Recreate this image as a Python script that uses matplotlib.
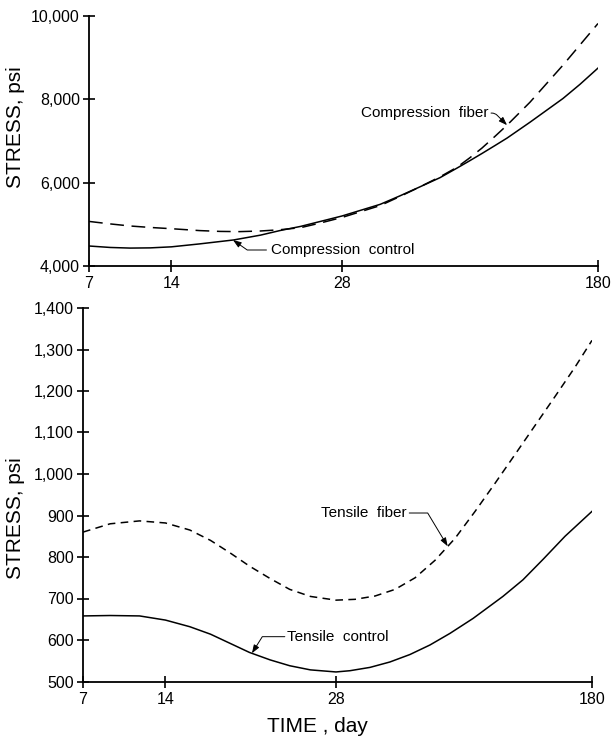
import numpy as np
import matplotlib
matplotlib.use("Agg")
import matplotlib.pyplot as plt
from matplotlib.ticker import FixedLocator, FuncFormatter

plt.rcParams['font.family'] = ['Liberation Sans', 'DejaVu Sans']

# ---- data (days, psi) ----
x_ticks = [7, 14, 28, 180]
x_tick_labels = ["7", "14", "28", "180"]

comp_control_days = [7, 8.8, 10.5, 12.2, 14, 16.3, 19.1, 21.3, 22.9, 24.6, 28, 50.7, 62.5, 74.3, 86.2, 96.3, 104.0, 111.1, 118.8, 126.0, 139.6, 159.2, 169.3, 180]
comp_control_psi = [4480, 4445, 4430, 4435, 4460, 4530, 4625, 4740, 4850, 4950, 5200, 5480, 5685, 5900, 6120, 6350, 6530, 6700, 6890, 7070, 7450, 8020, 8360, 8750]

comp_fiber_days = [7, 8.8, 10.5, 12.2, 14, 16.3, 18.0, 19.6, 21.3, 22.9, 24.6, 26.2, 28, 50.7, 62.5, 74.3, 86.2, 96.3, 104.0, 111.1, 118.8, 126.0, 139.6, 159.2, 180]
comp_fiber_psi = [5070, 5010, 4960, 4925, 4895, 4850, 4830, 4825, 4840, 4870, 4920, 5030, 5165, 5450, 5670, 5900, 6140, 6370, 6600, 6830, 7110, 7380, 7930, 8820, 9820]

tens_fiber_days = [7, 9.3, 11.8, 14, 16.0, 17.7, 19.3, 20.9, 22.6, 24.2, 25.9, 28, 39.3, 51.2, 63.1, 75.0, 86.8, 98.7, 110.6, 122.5, 134.3, 146.2, 158.1, 170, 180]
tens_fiber_psi = [860, 880, 887, 882, 865, 840, 810, 778, 748, 722, 705, 696, 698, 706, 722, 750, 792, 845, 910, 978, 1047, 1117, 1187, 1258, 1322]

tens_control_days = [7, 9.3, 11.8, 14, 16.0, 17.7, 19.3, 20.9, 22.6, 24.2, 25.9, 28, 36.3, 48.2, 60.0, 71.9, 83.8, 95.7, 109.4, 127.1, 139.0, 151.1, 164.0, 180]
tens_control_psi = [658, 659, 658, 648, 632, 614, 592, 570, 552, 538, 528, 523, 526, 534, 547, 565, 588, 616, 652, 705, 745, 795, 850, 910]

top_yticks = [4000, 6000, 8000, 10000]
bot_yticks = [500, 600, 700, 800, 900, 1000, 1100, 1200, 1300, 1400]

# ---- piecewise-linear time axis as in the original drawing ----
_brk_days = np.array([7, 14, 28, 180], dtype=float)
_brk_pos = np.array([0.0, 0.162, 0.497, 1.0])

def fwd(x):
    return np.interp(np.asarray(x, dtype=float), _brk_days, _brk_pos)

def inv(p):
    return np.interp(np.asarray(p, dtype=float), _brk_pos, _brk_days)

fig = plt.figure(figsize=(6.13, 7.43), dpi=100)
ax1 = fig.add_axes([89/613, 1-266/743, (598-89)/613, 250/743])
ax2 = fig.add_axes([83/613, 1-681.5/743, (592-83)/613, 373.5/743])

def fmt_thousands(v, pos):
    return f"{int(v):,}"

for ax in (ax1, ax2):
    ax.set_xscale('function', functions=(fwd, inv))
    ax.set_xlim(7, 180)
    ax.xaxis.set_major_locator(FixedLocator(x_ticks))
    ax.set_xticklabels(x_tick_labels)
    ax.xaxis.set_minor_locator(FixedLocator([]))
    for s in ('top', 'right'):
        ax.spines[s].set_visible(False)
    for s in ('left', 'bottom'):
        ax.spines[s].set_linewidth(1.3)
    ax.tick_params(axis='both', direction='inout', length=9, width=1.2,
                   labelsize=11.5, colors='black')
    ax.tick_params(axis='x', pad=3)
    ax.tick_params(axis='y', pad=2)

# top panel
ax1.plot(comp_control_days, comp_control_psi, color='black', lw=1.1)
ax1.plot(comp_fiber_days, comp_fiber_psi, color='black', lw=1.1, dashes=(9, 5))
ax1.set_ylim(4000, 10000)
ax1.yaxis.set_major_locator(FixedLocator(top_yticks))
ax1.yaxis.set_major_formatter(FuncFormatter(fmt_thousands))
ax1.set_ylabel("STRESS, psi", fontsize=15)
ax1.yaxis.set_label_coords(-0.125, 0.556)

# bottom panel
ax2.plot(tens_control_days, tens_control_psi, color='black', lw=1.1)
ax2.plot(tens_fiber_days, tens_fiber_psi, color='black', lw=1.1, dashes=(5, 3.5))
ax2.set_ylim(500, 1400)
ax2.yaxis.set_major_locator(FixedLocator(bot_yticks))
ax2.yaxis.set_major_formatter(FuncFormatter(fmt_thousands))
ax2.set_ylabel("STRESS, psi", fontsize=15)
ax2.yaxis.set_label_coords(-0.113, 0.438)
ax2.set_xlabel("TIME , day", fontsize=15)
ax2.xaxis.set_label_coords(0.46, -0.095)

arrow = dict(arrowstyle='-|>,head_length=0.5,head_width=0.18', color='black', lw=0.7,
             shrinkA=0, shrinkB=0)

# annotations
ax1.text(115, 7670, "Compression  fiber", ha='right', va='center', fontsize=11)
ax1.annotate('', xy=(126.0, 7380), xytext=(116.5, 7670),
             arrowprops=dict(arrow, connectionstyle='angle,angleA=0,angleB=-45,rad=3'))

ax1.text(22.2, 4384, "Compression  control", ha='left', va='center', fontsize=11)
ax1.annotate('', xy=(19.05, 4624), xytext=(21.8, 4384),
             arrowprops=dict(arrow, connectionstyle='angle,angleA=180,angleB=-35,rad=0'))

ax2.text(70.2, 906, "Tensile  fiber", ha='right', va='center', fontsize=11)
ax2.annotate('', xy=(94.3, 826), xytext=(71.5, 906),
             arrowprops=dict(arrow, connectionstyle='angle,angleA=0,angleB=-59,rad=0'))

ax2.text(24.0, 608, "Tensile  control", ha='left', va='center', fontsize=11)
ax2.annotate('', xy=(21.1, 568), xytext=(23.8, 608),
             arrowprops=dict(arrow, connectionstyle='angle,angleA=180,angleB=-122,rad=0'))

fig.savefig("out.png", dpi=100, facecolor='white')
